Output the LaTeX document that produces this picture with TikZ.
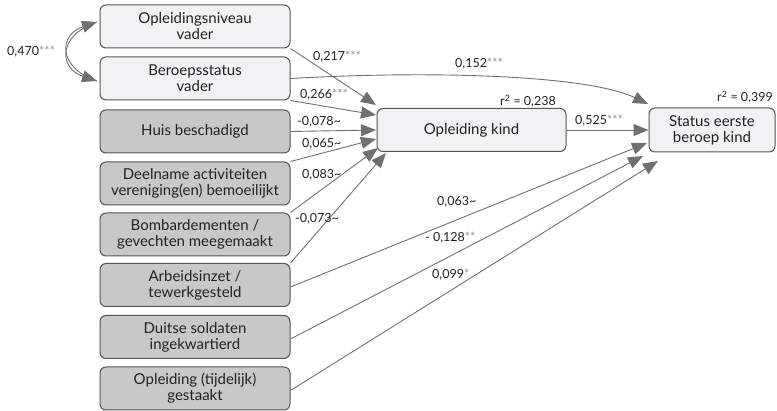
\documentclass[tikz,border=0pt]{standalone}
\usepackage{fontspec}
\setmainfont{Lato}
\usetikzlibrary{arrows.meta}
\definecolor{lightfill}{HTML}{F1F2F4}
\definecolor{darkfill}{HTML}{C8C8C8}
\definecolor{boxline}{HTML}{555555}
\definecolor{arrowgray}{HTML}{707070}
\definecolor{stargray}{HTML}{8C8C8C}
\definecolor{txt}{HTML}{222222}
\newcommand{\st}[1]{{\color{stargray}#1}}
\newcommand{\tl}{\textasciitilde}
\tikzset{
  basebox/.style={draw=boxline, line width=1pt, rounded corners=6pt, align=center,
    minimum height=43pt, inner sep=1pt, text=txt, font=\fontsize{15}{16}\selectfont},
  lightbox/.style={basebox, fill=lightfill, minimum width=190pt},
  darkbox/.style={basebox, fill=darkfill, minimum width=190pt},
  conn/.style={draw=arrowgray, line width=0.9pt, -{Triangle[length=15pt,width=12pt]}},
  lbl/.style={font=\fontsize{12.5}{13}\selectfont, text=txt, inner sep=0pt, anchor=west},
}
\begin{document}
\begin{tikzpicture}[x=1pt,y=-1pt]
\useasboundingbox (0,0) rectangle (777,411);
% left boxes
\node[lightbox] (ov) at (195,26.5) {Opleidingsniveau\\vader};
\node[lightbox] (bv) at (195,78.5) {Beroepsstatus\\vader};
\node[darkbox] (hb) at (195,131.5) {Huis beschadigd};
\node[darkbox] (da) at (195,183.5) {Deelname activiteiten\\vereniging(en) bemoeilijkt};
\node[darkbox] (bg) at (195,234.5) {Bombardementen /\\gevechten meegemaakt};
\node[darkbox] (at) at (195,285) {Arbeidsinzet /\\tewerkgesteld};
\node[darkbox] (ds) at (195,337) {Duitse soldaten\\ingekwartierd};
\node[darkbox] (ot) at (195,388.5) {Opleiding (tijdelijk)\\gestaakt};
% right boxes
\node[lightbox, minimum width=189pt] (ok) at (471.5,130) {Opleiding kind};
\node[lightbox, minimum width=126pt, minimum height=44pt] (sb) at (712,130) {Status eerste\\beroep kind};
% target coordinates
\coordinate (k1) at (376,105);
\coordinate (k2) at (376,115);
\coordinate (k3) at (376,130);
\coordinate (k4) at (376,139);
\coordinate (k5) at (378,148);
\coordinate (k6) at (386,153);
\coordinate (s1) at (648,104);
\coordinate (s3) at (647,143);
\coordinate (s4) at (643,156);
\coordinate (s5) at (658,161);
\coordinate (a1) at (97,22);
\coordinate (a2) at (97,81);
% correlation
\draw[conn] (a2) .. controls (58,68) and (58,35) .. (a1);
\draw[conn] (a1) .. controls (58,35) and (58,68) .. (a2);
% to opleiding kind
\draw[conn] (ov.south east) -- (k1);
\draw[conn] (bv.south east) -- (k2);
\draw[conn] (hb.east) -- (k3);
\draw[conn] (da.north east) -- (k4);
\draw[conn] (bg.north east) -- (k5);
\draw[conn] (at.north east) -- (k6);
% to status
\draw[conn] (bv.east) .. controls (440,70) and (590,76) .. (s1);
\draw[conn] (ok.east) -- (sb.west);
\draw[conn] ([yshift=-2pt]at.east) -- (s3);
\draw[conn] ([yshift=-2pt]ds.east) -- (s4);
\draw[conn] ([yshift=-2pt]ot.east) -- (s5);
% labels
\node[lbl] (l470) at (7,52) {0,470\st{***}};
\node[lbl] (l217) at (313,57) {0,217\st{***}};
\node[lbl] (l152) at (455,64) {0,152\st{***}};
\node[lbl] (l266) at (300,95) {0,266\st{***}};
\node[lbl] (l078) at (297,122) {-0,078\tl};
\node[lbl] (l065) at (302,144) {0,065\tl};
\node[lbl] (l083) at (302,175) {0,083\tl};
\node[lbl] (l073) at (295,219) {-0,073\tl};
\node[lbl] (r238) at (500,101) {r\textsuperscript{2} = 0,238};
\node[lbl] (l525) at (575,121) {0,525\st{***}};
\node[lbl] (r399) at (717,97) {r\textsuperscript{2} = 0,399};
\node[lbl] (l063) at (437,202) {0,063\tl};
\node[lbl] (l128) at (425,238) {- 0,128\st{**}};
\node[lbl] (l099) at (432,275) {0,099\st{*}};
\end{tikzpicture}
\end{document}
